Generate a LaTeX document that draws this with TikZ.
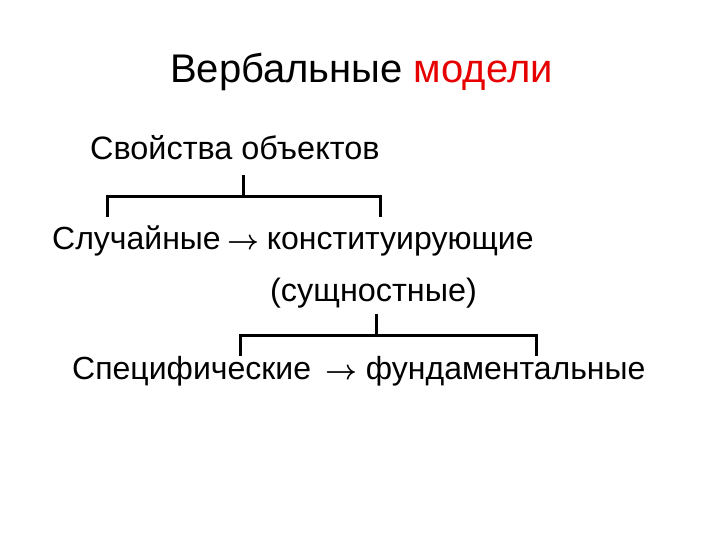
\documentclass[tikz,border=0pt]{standalone}
\usepackage{fontspec}
\setmainfont{Liberation Sans}
\newcommand\myarr{\resizebox{32pt}{!}{\boldmath$\rightarrow$}}
\begin{document}
\begin{tikzpicture}[x=1pt,y=-1pt,
  txt/.style={inner sep=0pt,anchor=base west,font=\fontsize{32.4}{38}\selectfont},
  txtb/.style={txt,font=\fontsize{32}{38}\selectfont},
  brk/.style={line width=3pt,line cap=rect}]
\useasboundingbox[fill=white] (0,0) rectangle (720,540);
\node[inner sep=0pt,anchor=base west,font=\fontsize{40}{48}\selectfont] (title) at (170,83) {Вербальные \textcolor[RGB]{230,0,0}{модели}};
\node[txt] (props) at (90,160) {Свойства объектов};
\node[txtb] (rand) at (52,249) {Случайные\hspace{7pt}\myarr\hspace{7pt}конституирующие};
\node[txt] (ess) at (270,301) {(сущностные)};
\node[txtb] (spec) at (72,379) {Специфические\hspace{15pt}\myarr\hspace{8pt}фундаментальные};
% bracket 1
\coordinate (b1t) at (243,177);
\coordinate (b1m) at (243,197);
\coordinate (b1l) at (107,197);
\coordinate (b1r) at (380,197);
\coordinate (b1ld) at (107,216);
\coordinate (b1rd) at (380,216);
\draw[brk] (b1t) -- (b1m);
\draw[brk] (b1ld) -- (b1l) -- (b1r) -- (b1rd);
% bracket 2
\coordinate (b2t) at (376,315);
\coordinate (b2m) at (376,335);
\coordinate (b2l) at (240,335);
\coordinate (b2r) at (536,335);
\coordinate (b2ld) at (240,354);
\coordinate (b2rd) at (536,354);
\draw[brk] (b2t) -- (b2m);
\draw[brk] (b2ld) -- (b2l) -- (b2r) -- (b2rd);
\end{tikzpicture}
\end{document}
